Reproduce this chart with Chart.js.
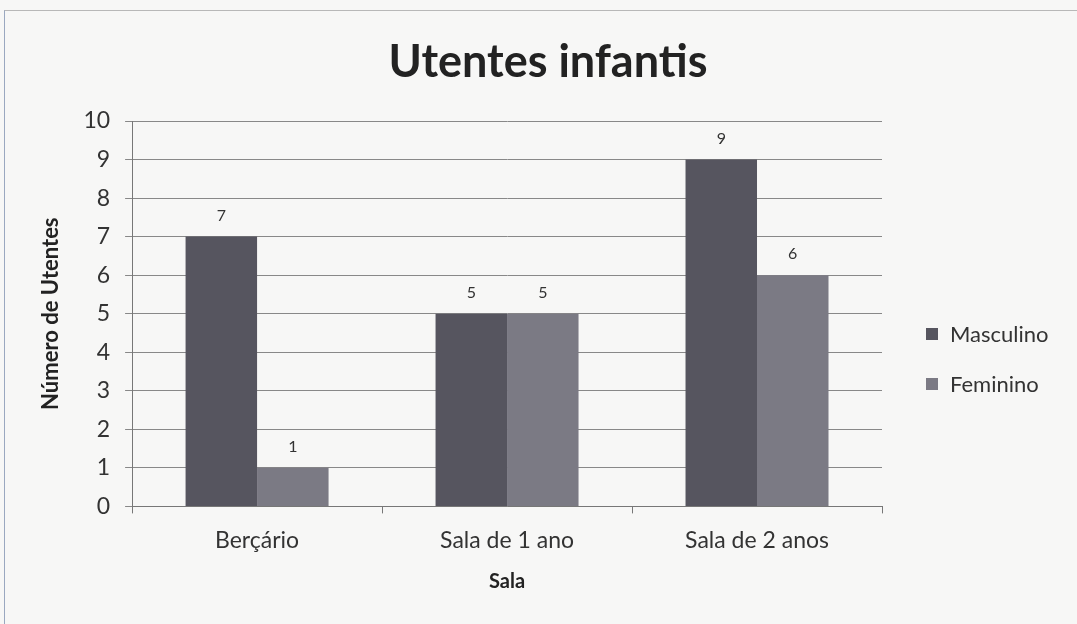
<!DOCTYPE html>
<html>
<head>
<meta charset="utf-8">
<script src="https://cdn.jsdelivr.net/npm/chart.js@4/dist/chart.umd.min.js"></script>
<style>
  html, body { margin: 0; padding: 0; background: #f7f7f6; }
  #wrap { position: relative; width: 1077px; height: 624px; overflow: hidden; }
  #frame { position: absolute; left: 4px; top: 10px; width: 1080px; height: 620px;
           border-top: 1px solid #b8b8b8; border-left: 1px solid #9aa8c0; }
  #legend { position: absolute; left: 926px; top: 318px; font: 22px Lato, 'Open Sans', sans-serif; color: #333; }
  #legend div { height: 50px; line-height: 32px; white-space: nowrap; }
  #legend span { display: inline-block; width: 12px; height: 12px; margin-right: 12px; vertical-align: 2px; }
</style>
</head>
<body>
<div id="wrap">
  <div id="frame"></div>
  <canvas id="chart" width="1077" height="624"></canvas>
  <div id="legend"></div>
</div>
<script>
// chart data
const salas = ["Berçário", "Sala de 1 ano", "Sala de 2 anos"]
const masculino = [7, 5, 9]
const feminino = [1, 5, 6]
const yTicks = [0, 1, 2, 3, 4, 5, 6, 7, 8, 9, 10]

const fontFam = "Lato, 'Open Sans', sans-serif"

// draws the value above each bar
const valueLabels = {
    id: "valueLabels",
    afterDatasetsDraw(chart) {
        const ctx = chart.ctx
        ctx.save()
        ctx.font = "16px " + fontFam
        ctx.fillStyle = "#333"
        ctx.textAlign = "center"
        ctx.textBaseline = "middle"
        chart.data.datasets.forEach((ds, i) => {
            chart.getDatasetMeta(i).data.forEach((bar, j) => {
                ctx.fillText(ds.data[j], bar.x, bar.y - 21)
            })
        })
        ctx.restore()
    }
}

let chart = new Chart(document.getElementById("chart").getContext("2d"), {
    type: "bar",
    data: {
        labels: salas,
        datasets: [
            { label: "Masculino", data: masculino, backgroundColor: "#56555f" },
            { label: "Feminino", data: feminino, backgroundColor: "#7b7a84" }
        ]
    },
    options: {
        responsive: false,
        animation: false,
        layout: { padding: { left: 38, right: 19, top: 20, bottom: 30 } },
        datasets: { bar: { categoryPercentage: 0.572, barPercentage: 1 } },
        plugins: {
            title: {
                display: true,
                text: "Utentes infantis",
                color: "#222",
                font: { family: fontFam, size: 45, weight: "bold" },
                padding: { top: 15, bottom: 32 }
            },
            legend: { display: false },
            tooltip: { enabled: false }
        },
        scales: {
            x: {
                grid: { display: true, drawOnChartArea: false, drawTicks: true, tickLength: 7, color: "#777", offset: true },
                border: { color: "#777" },
                ticks: { color: "#333", font: { family: fontFam, size: 23 }, padding: 13 },
                title: { display: true, text: "Sala", color: "#222", font: { family: fontFam, size: 20, weight: "bold" }, padding: { top: 3, bottom: 0 } }
            },
            y: {
                min: 0,
                max: 10,
                afterBuildTicks(axis) { axis.ticks = yTicks.map(v => ({ value: v })) },
                grid: { color: "#888", tickLength: 7 },
                border: { color: "#777" },
                ticks: { color: "#333", font: { family: fontFam, size: 23 }, padding: 15 },
                title: { display: true, text: "Número de Utentes", color: "#222", font: { family: fontFam, size: 22, weight: "bold" }, padding: { top: 0, bottom: 4 } }
            },
            // empty axis on the right that only reserves room for the legend
            legendSpace: {
                type: "linear",
                position: "right",
                grid: { display: false },
                border: { display: false },
                ticks: { display: false },
                afterFit(axis) { axis.width = 176 }
            }
        }
    },
    plugins: [valueLabels]
})

// legend on the right, built from the datasets
const legendBox = document.getElementById("legend")
chart.data.datasets.forEach(ds => {
    const row = document.createElement("div")
    const sw = document.createElement("span")
    sw.style.background = ds.backgroundColor
    row.appendChild(sw)
    row.appendChild(document.createTextNode(ds.label))
    legendBox.appendChild(row)
})
</script>
</body>
</html>
